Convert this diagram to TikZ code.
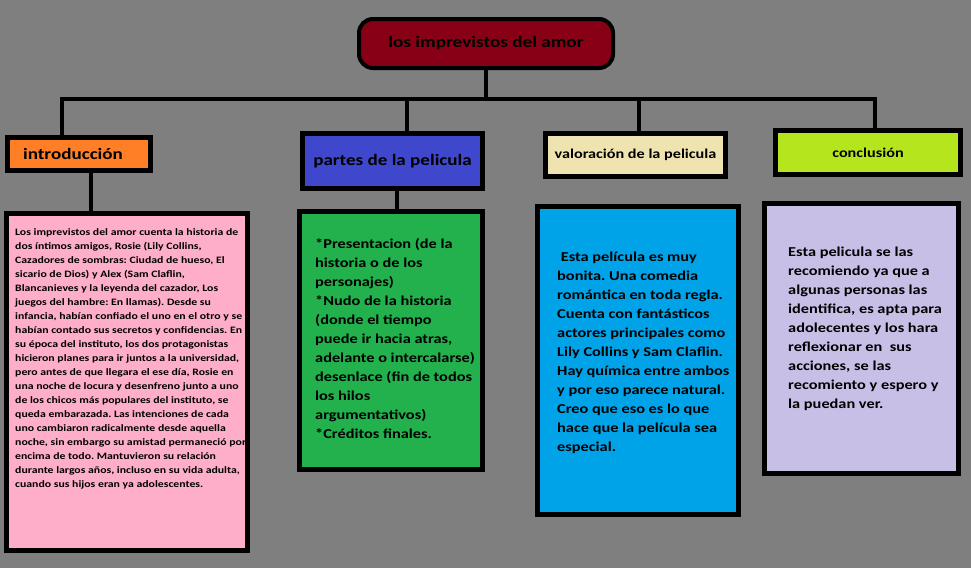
\documentclass[tikz,border=0pt]{standalone}
\usepackage{fontspec}
\setmainfont{Carlito}[FakeStretch=1.2]
\usetikzlibrary{positioning}
\frenchspacing
\definecolor{fondo}{HTML}{7F7F7F}
\definecolor{vino}{HTML}{880015}
\definecolor{naranja}{HTML}{FF7F27}
\definecolor{azulrey}{HTML}{3F48CC}
\definecolor{crema}{HTML}{EFE4B0}
\definecolor{lima}{HTML}{B5E61D}
\definecolor{rosa}{HTML}{FFAEC9}
\definecolor{verde}{HTML}{22B14C}
\definecolor{celeste}{HTML}{00A2E8}
\definecolor{lavanda}{HTML}{C8BFE7}

\begin{document}
\begin{tikzpicture}[
        x=1pt, y=-1pt,
        titulo/.style={rectangle, draw=black, line width=4pt, rounded corners=14pt, fill=vino, minimum width=254pt, minimum height=49pt, font=\bfseries\fontsize{16}{20}\selectfont},
        cabeza/.style={rectangle, draw=black, line width=5pt, inner sep=0pt, font=\bfseries\fontsize{15.9}{18}\selectfont},
        caja/.style={rectangle, draw=black, line width=5pt, inner sep=0pt},
        texto/.style={anchor=north west, inner sep=0pt, align=left, text=black, font=\bfseries\fontsize{13.6}{19}\selectfont},
        rama/.style={line width=4pt}
    ]
    \fill[fondo] (0,0) rectangle (971,568);
    \useasboundingbox (0,0) rectangle (971,568);

    % TITULO
    \node[titulo] (titulo) at (486,43.5) {los imprevistos del amor};

    % CABEZAS
    \node[cabeza, fill=naranja, minimum width=143pt, minimum height=33pt] (intro) at (79,154) {introducción\hspace*{12pt}};
    \node[cabeza, fill=azulrey, minimum width=180pt, minimum height=55pt] (partes) at (392.5,161) {partes de la pelicula};
    \node[cabeza, fill=crema, minimum width=180pt, minimum height=43pt, font=\bfseries\fontsize{13.5}{16}\selectfont] (valor) at (635.5,155) {valoración de la pelicula};
    \node[cabeza, fill=lima, minimum width=185pt, minimum height=44pt, font=\bfseries\fontsize{13.5}{16}\selectfont] (concl) at (868,152.5) {conclusión};

    % CAJAS
    \node[caja, fill=rosa, minimum width=241pt, minimum height=337pt] (cajaintro) at (127,382) {};
    \node[texto, font=\bfseries\fontsize{9.8}{14}\selectfont] at (cajaintro.north west) [xshift=11pt, yshift=-17.5pt] (txtintro) {Los imprevistos del amor cuenta la historia de\\dos íntimos amigos, Rosie (Lily Collins,\\Cazadores de sombras: Ciudad de hueso, El\\sicario de Dios) y Alex (Sam Claflin,\\Blancanieves y la leyenda del cazador, Los\\juegos del hambre: En llamas). Desde su\\infancia, habían confiado el uno en el otro y se\\habían contado sus secretos y confidencias. En\\su época del instituto, los dos protagonistas\\hicieron planes para ir juntos a la universidad,\\pero antes de que llegara el ese día, Rosie en\\una noche de locura y desenfreno junto a uno\\de los chicos más populares del instituto, se\\queda embarazada. Las intenciones de cada\\uno cambiaron radicalmente desde aquella\\noche, sin embargo su amistad permaneció por\\encima de todo. Mantuvieron su relación\\durante largos años, incluso en su vida adulta,\\cuando sus hijos eran ya adolescentes.};

    \node[caja, fill=verde, minimum width=183pt, minimum height=258pt] (cajapartes) at (391,340.5) {};
    \node[texto] at (cajapartes.north west) [xshift=18pt, yshift=-29pt] (txtpartes) {*Presentacion (de la\\historia o de los\\personajes)\\*Nudo de la historia\\(donde el tiempo\\puede ir hacia atras,\\adelante o intercalarse)\\desenlace (fin de todos\\los hilos\\argumentativos)\\*Créditos finales.};

    \node[caja, fill=celeste, minimum width=201pt, minimum height=308pt] (cajavalor) at (638,360.5) {};
    \node[texto] at (cajavalor.north west) [xshift=22pt, yshift=-48pt] (txtvalor) {\ Esta película es muy\\bonita. Una comedia\\romántica en toda regla.\\Cuenta con fantásticos\\actores principales como\\Lily Collins y Sam Claflin.\\Hay química entre ambos\\y por eso parece natural.\\Creo que eso es lo que\\hace que la película sea\\especial.};

    \node[caja, fill=lavanda, minimum width=194pt, minimum height=270pt] (cajaconcl) at (861.5,338.5) {};
    \node[texto] at (cajaconcl.north west) [xshift=26pt, yshift=-45.5pt] (txtconcl) {Esta pelicula se las\\recomiendo ya que a\\algunas personas las\\identifica, es apta para\\adolecentes y los hara\\reflexionar en\ \ sus\\acciones, se las\\recomiento y espero y\\la puedan ver.};

    % Ramas
    \coordinate (barra) at (484,99);
    \draw[rama] (titulo.south) -- (titulo.south |- barra);
    \draw[rama, line cap=rect] ([xshift=-17pt]intro.north |- barra) -- ([xshift=7pt]concl.north |- barra);
    \draw[rama] ([xshift=-17pt]intro.north |- barra) -- ([xshift=-17pt]intro.north);
    \draw[rama] ([xshift=14.5pt]partes.north |- barra) -- ([xshift=14.5pt]partes.north);
    \draw[rama] ([xshift=3.5pt]valor.north |- barra) -- ([xshift=3.5pt]valor.north);
    \draw[rama] ([xshift=7pt]concl.north |- barra) -- ([xshift=7pt]concl.north);
    \draw[rama] ([xshift=12pt]intro.south) -- ([xshift=12pt]intro.south |- cajaintro.north);
    \draw[rama] ([xshift=4.5pt]partes.south) -- ([xshift=4.5pt]partes.south |- cajapartes.north);
\end{tikzpicture}
\end{document}
